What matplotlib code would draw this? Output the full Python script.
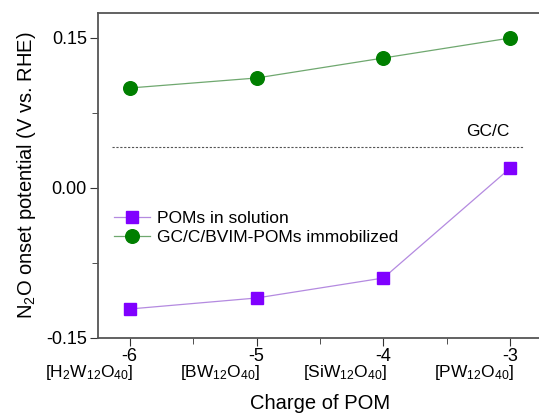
import numpy as np
import matplotlib
matplotlib.use("Agg")
import matplotlib.pyplot as plt
from matplotlib.transforms import blended_transform_factory

plt.rcParams['font.family'] = ['Liberation Sans', 'DejaVu Sans']
plt.rcParams['mathtext.default'] = 'regular'

charge = [-6, -5, -4, -3]
pom_names = ['[H$_2$W$_{12}$O$_{40}$]', '[BW$_{12}$O$_{40}$]',
             '[SiW$_{12}$O$_{40}$]', '[PW$_{12}$O$_{40}$]']
solution = [-0.121, -0.110, -0.090, 0.020]
immobilized = [0.100, 0.110, 0.130, 0.150]
gc_c = 0.041

fig = plt.figure(figsize=(5.39, 4.13), dpi=100)
ax = fig.add_axes([98 / 539, 75 / 413, 444 / 539, 325 / 413])

ax.plot(charge, solution, color='#b48ae0', lw=0.9, marker='s', ms=9.2,
        mfc='#8000ff', mec='#8000ff', label='POMs in solution')
ax.plot(charge, immobilized, color='#6fa86f', lw=0.9, marker='o', ms=9.8,
        mfc='#007f00', mec='#007f00', label='GC/C/BVIM-POMs immobilized')
ax.axhline(gc_c, xmin=0.0315, xmax=0.959, color='#555555', lw=0.8, ls=(0, (2, 1.5)))
ax.text(-3.18, gc_c + 0.008, 'GC/C', fontsize=12.5, ha='center', va='bottom')

ax.set_xlim(-6.25, -2.75)
ax.set_ylim(-0.15, 0.175)
ax.set_xticks(charge)
ax.set_xticklabels([str(c) for c in charge])
ax.set_xticks([-5.5, -4.5, -3.5], minor=True)
ax.set_yticks([-0.15, 0.0, 0.15])
ax.set_yticklabels(['-0.15', '0.00', '0.15'])
ax.set_yticks([-0.075, 0.075], minor=True)
ax.tick_params(which='both', direction='out', labelsize=13, color='#333333')
ax.tick_params(which='major', length=6)
ax.tick_params(which='minor', length=4)
ax.tick_params(axis='x', pad=1)
ax.tick_params(axis='y', pad=2)
for side in ['left', 'bottom', 'top']:
    ax.spines[side].set_color('#555555')
    ax.spines[side].set_linewidth(1.3)
ax.spines['right'].set_visible(False)

# formula labels sit under the charge ticks, right-aligned to the tick
trans = blended_transform_factory(ax.transData, ax.transAxes)
for c, name in zip(charge, pom_names):
    ax.text(c + 0.03, -0.078, name, transform=trans, ha='right', va='top', fontsize=12.5)

ax.set_xlabel('Charge of POM', fontsize=14.5, labelpad=21)
ax.set_ylabel('N$_2$O onset potential (V vs. RHE)', fontsize=14.5, labelpad=6)

ax.legend(loc='upper left', bbox_to_anchor=(0.0, 0.44), frameon=False,
          fontsize=12.5, handlelength=2.1, handletextpad=0.4, labelspacing=0.25)

fig.savefig('out.png', dpi=100)
